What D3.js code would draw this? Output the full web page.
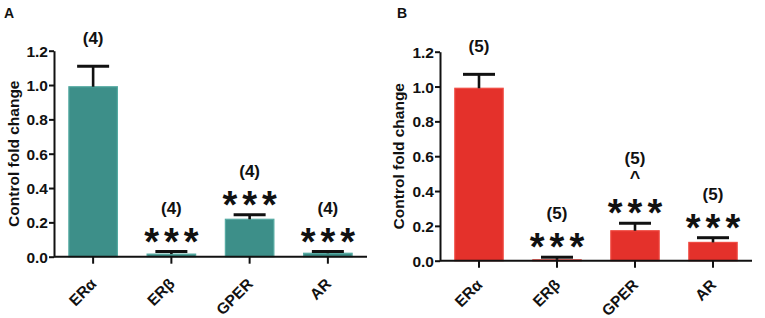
<!DOCTYPE html>
<html>
<head>
<meta charset="utf-8">
<script src="https://cdn.jsdelivr.net/npm/d3@7"></script>
<style>
	body { margin: 0; background: #fff; }
	text { font-family: "Liberation Sans", Arial, sans-serif; font-weight: bold; }
</style>
</head>
<body>
<div id="chart"></div>
<script>
// categories shared by both panels
const categories = ["ERα", "ERβ", "GPER", "AR"];
const y_ticks = [0.0, 0.2, 0.4, 0.6, 0.8, 1.0, 1.2];

// panel A (teal)
const a_means = [0.99, 0.015, 0.218, 0.02];
const a_errors = [1.11, 0.03, 0.245, 0.03];
const a_n = ["(4)", "(4)", "(4)", "(4)"];
const a_stars = ["", "***", "***", "***"];
const a_carets = ["", "", "", ""];

// panel B (red)
const b_means = [0.99, 0.005, 0.172, 0.105];
const b_errors = [1.07, 0.02, 0.215, 0.132];
const b_n = ["(5)", "(5)", "(5)", "(5)"];
const b_stars = ["", "***", "***", "***"];
const b_carets = ["", "", "^", ""];

const width = 765, height = 318;

const svg = d3.select("#chart").append("svg")
	.attr("width", width)
	.attr("height", height);

function drawPanel(opts) {
	const g = svg.append("g");

	const x = d3.scaleBand()
		.domain(categories)
		.range([opts.left, opts.right])
		.paddingInner(0.38)
		.paddingOuter(0.19);

	const y = d3.scaleLinear()
		.domain([0, 1.2])
		.range([opts.bottom, opts.top]);

	const rows = categories.map((c, i) => ({
		cat: c, mean: opts.means[i], err: opts.errors[i],
		n: opts.n[i], stars: opts.stars[i], caret: opts.carets[i]
	}));

	// bars
	g.selectAll("rect.bar")
		.data(rows)
		.join("rect")
		.attr("class", "bar")
		.attr("x", d => x(d.cat))
		.attr("y", d => y(d.mean))
		.attr("width", x.bandwidth())
		.attr("height", d => Math.max(0.8, y(0) - y(d.mean)))
		.attr("fill", opts.fill)
		.attr("stroke", opts.stroke)
		.attr("stroke-width", 1.2);

	// error bars (upper only)
	const cx = d => x(d.cat) + x.bandwidth() / 2;
	g.selectAll("line.err")
		.data(rows)
		.join("line")
		.attr("x1", cx).attr("x2", cx)
		.attr("y1", d => y(d.mean))
		.attr("y2", d => y(d.err))
		.attr("stroke", "#111")
		.attr("stroke-width", 2.6);
	g.selectAll("line.cap")
		.data(rows)
		.join("line")
		.attr("x1", d => cx(d) - 16).attr("x2", d => cx(d) + 16)
		.attr("y1", d => y(d.err))
		.attr("y2", d => y(d.err))
		.attr("stroke", "#111")
		.attr("stroke-width", 3);

	// y axis
	const yAxis = g.append("g")
		.attr("transform", "translate(" + opts.left + ",0)")
		.call(d3.axisLeft(y).tickValues(y_ticks).tickFormat(d3.format(".1f")).tickSize(5).tickSizeOuter(0));
	yAxis.select(".domain").attr("stroke", "#111").attr("stroke-width", 2);
	yAxis.selectAll(".tick line").attr("stroke", "#111").attr("stroke-width", 2);
	yAxis.selectAll("text")
		.attr("font-size", 15.5)
		.attr("font-family", "Liberation Sans, Arial, sans-serif")
		.attr("font-weight", "bold")
		.attr("fill", "#111")
		.attr("x", -6)
		.attr("dy", "0.36em");

	// x axis
	const xAxis = g.append("g")
		.attr("transform", "translate(0," + opts.bottom + ")")
		.call(d3.axisBottom(x).tickSize(7).tickSizeOuter(0));
	xAxis.select(".domain")
		.attr("d", "M" + opts.left + ",0H" + opts.right)
		.attr("stroke", "#111").attr("stroke-width", 2);
	xAxis.selectAll(".tick line").attr("stroke", "#111").attr("stroke-width", 2);
	xAxis.selectAll("text")
		.attr("font-size", 15.5)
		.attr("font-family", "Liberation Sans, Arial, sans-serif")
		.attr("font-weight", "bold")
		.attr("fill", "#111")
		.style("text-anchor", "end")
		.attr("transform", "translate(-4," + opts.labelDrop + ") rotate(-45)")
		.attr("y", 0).attr("dy", "0.75em");

	// y axis title
	g.append("text")
		.attr("transform", "translate(" + opts.titleX + "," + (opts.top + opts.bottom) / 2 + ") rotate(-90)")
		.attr("text-anchor", "middle")
		.attr("font-size", 15.5)
		.attr("fill", "#111")
		.text("Control fold change");

	// panel letter
	g.append("text")
		.attr("x", opts.letterX).attr("y", 18)
		.attr("font-size", 14)
		.attr("fill", "#111")
		.text(opts.letter);

	// annotations above each error bar
	rows.forEach(d => {
		const top = y(d.err);
		let labelY;
		if (d.stars) {
			g.append("text")
				.attr("x", cx(d) + 2.5).attr("y", top + 3)
				.attr("text-anchor", "middle")
				.attr("font-size", 38)
				.attr("letter-spacing", 5)
				.attr("fill", "#111")
				.text(d.stars);
			labelY = top - 38;
			if (d.caret) {
				g.append("text")
					.attr("x", cx(d)).attr("y", top - 39)
					.attr("text-anchor", "middle")
					.attr("font-size", 18)
					.attr("fill", "#111")
					.text(d.caret);
				labelY = top - 59;
			}
		} else {
			labelY = top - 22;
		}
		g.append("text")
			.attr("x", cx(d)).attr("y", labelY)
			.attr("text-anchor", "middle")
			.attr("font-size", 17)
			.attr("fill", "#111")
			.text(d.n);
	});
}

drawPanel({
	letter: "A", letterX: 4, titleX: 19, labelDrop: 20,
	left: 54, right: 367, top: 50.7, bottom: 256.7,
	means: a_means, errors: a_errors, n: a_n, stars: a_stars, carets: a_carets,
	fill: "#3d8f89", stroke: "#55aaa2"
});

drawPanel({
	letter: "B", letterX: 397, titleX: 404, labelDrop: 17,
	left: 440, right: 752, top: 51.7, bottom: 260.7,
	means: b_means, errors: b_errors, n: b_n, stars: b_stars, carets: b_carets,
	fill: "#e4312b", stroke: "#f04b42"
});
</script>
</body>
</html>
